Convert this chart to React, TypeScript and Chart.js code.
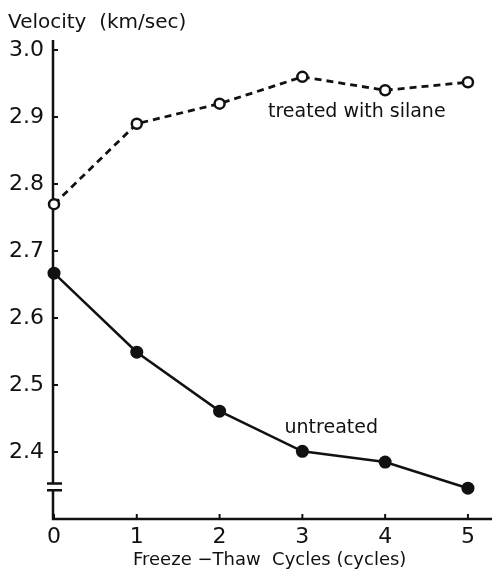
import React, { useEffect, useRef } from 'react';
import { Chart, registerables } from 'chart.js';
Chart.register(...registerables);

const cycles = [0, 1, 2, 3, 4, 5];
const treated = [2.77, 2.89, 2.92, 2.96, 2.94, 2.952];
const untreated = [2.667, 2.549, 2.461, 2.401, 2.385, 2.346];
const yTicks = [2.4, 2.5, 2.6, 2.7, 2.8, 2.9, 3.0];
const xTicks = [0, 1, 2, 3, 4, 5];
const yTitle = 'Velocity  (km/sec)';
const xTitle = 'Freeze \u2212Thaw  Cycles (cycles)';
const treatedLabel = 'treated with silane';
const untreatedLabel = 'untreated';

const FONT = '"DejaVu Sans", sans-serif';
const INK = '#111';

const axesPlugin = {
  id: 'axesPlugin',
  beforeDatasetsDraw(chart: any) {
    const { ctx, scales } = chart;
    const x = scales.x;
    const y = scales.y;
    const x0 = x.getPixelForValue(0) - 1;
    const yb = y.getPixelForValue(2.3);
    const yTop = y.getPixelForValue(3.015);
    const bHi = y.getPixelForValue(2.353);
    const bLo = y.getPixelForValue(2.343);
    ctx.save();
    ctx.strokeStyle = INK;
    ctx.lineWidth = 2.5;
    ctx.lineCap = 'butt';
    ctx.beginPath();
    ctx.moveTo(x0, yTop);
    ctx.lineTo(x0, bHi);
    ctx.moveTo(x0, bLo);
    ctx.lineTo(x0, yb);
    ctx.moveTo(x0 - 1.2, yb);
    ctx.lineTo(chart.width, yb);
    ctx.stroke();
    // break marks
    ctx.beginPath();
    ctx.moveTo(x0 - 6, bHi);
    ctx.lineTo(x0 + 9, bHi);
    ctx.moveTo(x0 - 6, bLo);
    ctx.lineTo(x0 + 9, bLo);
    ctx.stroke();
    // ticks
    ctx.lineWidth = 2;
    ctx.beginPath();
    yTicks.forEach((v) => {
      const py = y.getPixelForValue(v);
      ctx.moveTo(x0, py);
      ctx.lineTo(x0 + 5, py);
    });
    xTicks.forEach((v) => {
      const px = x.getPixelForValue(v);
      ctx.moveTo(px, yb);
      ctx.lineTo(px, yb - 5);
    });
    ctx.stroke();
    ctx.restore();
  },
  afterDraw(chart: any) {
    const { ctx } = chart;
    ctx.save();
    ctx.fillStyle = INK;
    ctx.textBaseline = 'alphabetic';
    ctx.textAlign = 'left';
    ctx.font = `20px ${FONT}`;
    ctx.fillText(yTitle, 8, 28);
    ctx.font = `18px ${FONT}`;
    ctx.fillText(xTitle, 133, 565);
    ctx.font = `19px ${FONT}`;
    ctx.fillText(treatedLabel, 268, 117);
    ctx.textAlign = 'right';
    ctx.fillText(untreatedLabel, 378, 433);
    ctx.restore();
  },
};

export default function App() {
  const ref = useRef<HTMLCanvasElement>(null);
  useEffect(() => {
    if (!ref.current) return;
    const chart = new Chart(ref.current, {
      type: 'line',
      data: {
        datasets: [
          {
            label: treatedLabel,
            data: cycles.map((c, i) => ({ x: c, y: treated[i] })),
            borderColor: INK,
            borderWidth: 2.8,
            borderDash: [7, 5],
            pointRadius: 5,
            pointBorderWidth: 2.5,
            pointBackgroundColor: '#fff',
            pointBorderColor: INK,
            tension: 0,
            clip: false,
          },
          {
            label: untreatedLabel,
            data: cycles.map((c, i) => ({ x: c, y: untreated[i] })),
            borderColor: INK,
            borderWidth: 2.5,
            pointRadius: 6.5,
            pointBorderWidth: 0,
            pointBackgroundColor: INK,
            pointBorderColor: INK,
            tension: 0,
            clip: false,
          },
        ],
      },
      options: {
        responsive: false,
        animation: false,
        layout: { padding: { top: 40, left: 0, right: 0, bottom: 0 } },
        plugins: { legend: { display: false }, tooltip: { enabled: false } },
        scales: {
          x: {
            type: 'linear',
            min: 0,
            max: 5.2,
            grid: { display: false, drawTicks: false },
            border: { display: false },
            afterBuildTicks: (s: any) => {
              s.ticks = xTicks.map((v) => ({ value: v }));
            },
            afterFit: (s: any) => {
              s.height = 55;
            },
            ticks: {
              padding: 5,
              color: INK,
              font: { family: FONT, size: 22 },
              callback: (v: any) => String(v),
            },
          },
          y: {
            type: 'linear',
            min: 2.3,
            max: 3.015,
            grid: { display: false, drawTicks: false },
            border: { display: false },
            afterBuildTicks: (s: any) => {
              s.ticks = yTicks.map((v) => ({ value: v }));
            },
            afterFit: (s: any) => {
              s.width = 54;
            },
            ticks: {
              padding: 10,
              color: INK,
              font: { family: FONT, size: 22 },
              callback: (v: any) => Number(v).toFixed(1),
            },
          },
        },
      },
      plugins: [axesPlugin],
    } as any);
    return () => chart.destroy();
  }, []);
  return (
    <div style={{ position: 'fixed', left: 0, top: 0, width: 492, height: 574, background: '#fff' }}>
      <canvas ref={ref} width={492} height={574} style={{ display: 'block', width: 492, height: 574 }} />
    </div>
  );
}
